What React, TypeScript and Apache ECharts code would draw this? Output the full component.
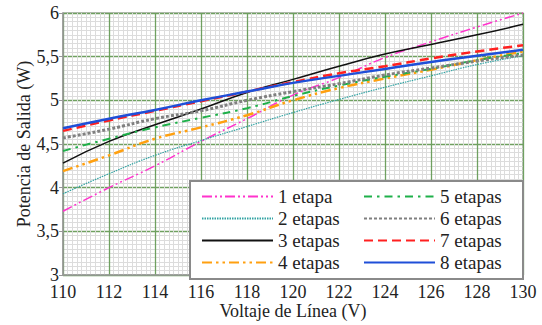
import React, { useEffect, useRef } from "react";
import * as echarts from "echarts";

const voltages = [110, 112, 114, 116, 118, 120, 122, 124, 126, 128, 130];
const etapa1 = [3.73, 4.0, 4.25, 4.53, 4.79, 5.06, 5.26, 5.49, 5.67, 5.84, 6.0];
const etapa2 = [3.93, 4.16, 4.37, 4.54, 4.7, 4.86, 5.01, 5.15, 5.28, 5.41, 5.51];
const etapa3 = [4.28, 4.53, 4.72, 4.9, 5.09, 5.24, 5.39, 5.53, 5.64, 5.75, 5.87];
const etapa4 = [4.19, 4.37, 4.56, 4.69, 4.83, 5.0, 5.14, 5.25, 5.35, 5.46, 5.56];
const etapa5 = [4.42, 4.56, 4.69, 4.8, 4.91, 5.05, 5.17, 5.27, 5.36, 5.46, 5.54];
const etapa6 = [4.57, 4.67, 4.79, 4.88, 5.0, 5.1, 5.19, 5.29, 5.37, 5.45, 5.52];
const etapa7 = [4.65, 4.77, 4.88, 4.99, 5.1, 5.21, 5.31, 5.39, 5.48, 5.56, 5.63];
const etapa8 = [4.68, 4.79, 4.89, 5.0, 5.1, 5.2, 5.28, 5.36, 5.44, 5.51, 5.58];

const names = ["1 etapa", "2 etapas", "3 etapas", "4 etapas", "5 etapas", "6 etapas", "7 etapas", "8 etapas"];
const values = [etapa1, etapa2, etapa3, etapa4, etapa5, etapa6, etapa7, etapa8];

const styles: any[] = [
  { color: "#ff33cc", width: 1.5, type: [10, 3, 2, 3, 2, 3] },
  { color: "#33a3a3", width: 1.2, type: [1.5, 1] },
  { color: "#111111", width: 1.5, type: "solid" },
  { color: "#ffa010", width: 2.5, type: [10, 4, 2.5, 4, 2.5, 4] },
  { color: "#1fb04a", width: 2, type: [8, 5, 2.5, 5] },
  { color: "#808080", width: 3, type: [3, 2] },
  { color: "#ff2020", width: 2.5, type: [9, 5] },
  { color: "#1f4fd8", width: 2.5, type: "solid" },
];

const FONT = "Liberation Serif";

export default function App() {
  const ref = useRef<HTMLDivElement>(null);
  useEffect(() => {
    if (!ref.current) return;
    const chart = echarts.init(ref.current, undefined, { renderer: "svg" });
    const series = names.map((n, i) => ({
      name: n,
      type: "line",
      data: voltages.map((v, j) => [v, values[i][j]]),
      smooth: true,
      symbol: "none",
      showSymbol: false,
      lineStyle: styles[i],
      itemStyle: { color: styles[i].color },
      z: 2 + i,
    }));
    const legendBase = {
      orient: "vertical",
      itemWidth: 71,
      itemHeight: 10,
      itemGap: 3,
      top: 187,
      padding: 0,
      itemStyle: { opacity: 0 },
      textStyle: { fontFamily: FONT, fontSize: 19, color: "#222" },
      selectedMode: false,
      z: 10,
    };
    chart.setOption({
      animation: false,
      textStyle: { fontFamily: FONT },
      grid: {
        left: 63,
        right: 19,
        top: 13,
        bottom: 45,
        show: true,
        borderColor: "#b0b0b0",
        borderWidth: 1.5,
        backgroundColor: "#fff",
      },
      xAxis: {
        type: "value",
        min: 110,
        max: 130,
        interval: 2,
        name: "Voltaje de Línea (V)",
        nameLocation: "middle",
        nameGap: 27,
        nameMoveOverlap: false,
        nameTextStyle: { fontFamily: FONT, fontSize: 18, lineHeight: 18, color: "#222" },
        axisLine: { show: true, lineStyle: { color: "#999", width: 1.5 } },
        axisTick: { show: false },
        axisLabel: {
          fontFamily: FONT,
          fontSize: 18,
          lineHeight: 16,
          color: "#222",
          margin: 9,
          hideOverlap: false,
        },
        splitLine: { show: true, lineStyle: { color: "#6fa060", width: 1.3 } },
        minorTick: { show: false, splitNumber: 10 },
        minorSplitLine: { show: true, lineStyle: { color: "#dcdcdc", width: 1 } },
      },
      yAxis: {
        type: "value",
        min: 3,
        max: 6,
        interval: 0.5,
        name: "Potencia de Salida (W)",
        nameLocation: "middle",
        nameGap: 30,
        nameMoveOverlap: false,
        nameTextStyle: { fontFamily: FONT, fontSize: 18, color: "#222" },
        axisLine: { show: true, lineStyle: { color: "#999", width: 1.5 } },
        axisTick: { show: true, length: 4, lineStyle: { color: "#999" } },
        axisLabel: {
          fontFamily: FONT,
          fontSize: 18,
          lineHeight: 14,
          padding: [0, 0, 4, 0],
          color: "#222",
          margin: 4,
          hideOverlap: false,
          formatter: (v: number) => String(v).replace(".", ","),
        },
        splitLine: { show: true, lineStyle: { color: "#6fa060", width: 1.3 } },
        minorTick: { show: false, splitNumber: 10 },
        minorSplitLine: { show: true, lineStyle: { color: "#dcdcdc", width: 1 } },
      },
      graphic: [
        {
          type: "rect",
          z: 8,
          shape: { x: 190, y: 181, width: 333, height: 98 },
          style: { fill: "#fff", stroke: "#8a8a8a", lineWidth: 2 },
        },
      ],
      legend: [
        { ...legendBase, left: 201, data: names.slice(0, 4) },
        { ...legendBase, left: 363, data: names.slice(4) },
      ],
      series,
    });
    return () => chart.dispose();
  }, []);
  return (
    <div
      ref={ref}
      style={{ position: "fixed", left: 0, top: 0, width: 542, height: 325, background: "#fff" }}
    />
  );
}
